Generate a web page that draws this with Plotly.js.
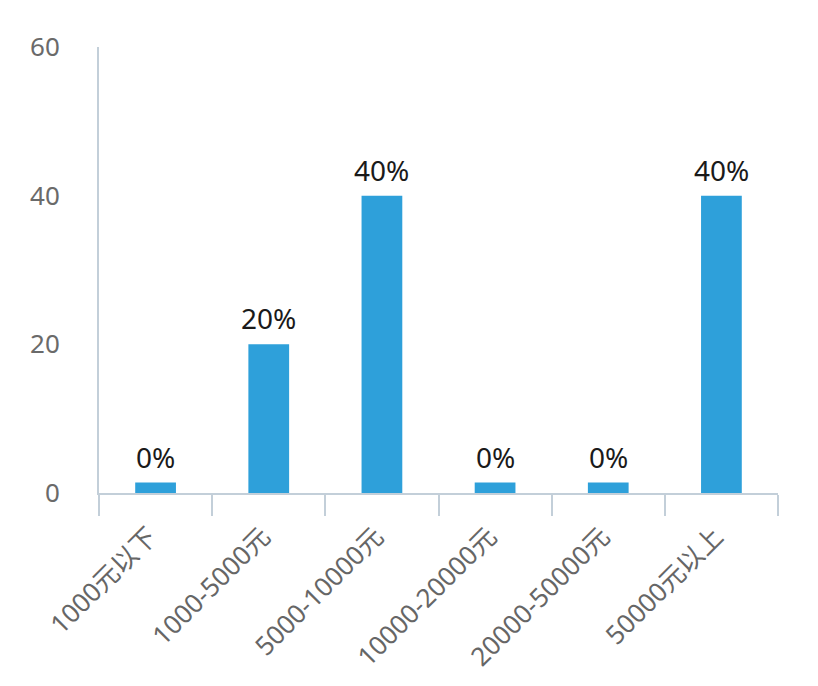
<!DOCTYPE html>
<html>
<head>
<meta charset="utf-8">
<script src="https://cdn.plot.ly/plotly-3.0.1.min.js"></script>
<style>html,body{margin:0;padding:0;background:#fff;}#chart{width:818px;height:686px;}</style>
</head>
<body>
<div id="chart"></div>
<script>
// Data
const categories = ["1000元以下", "1000-5000元", "5000-10000元", "10000-20000元", "20000-50000元", "50000元以上"];
const percentValues = [0, 20, 40, 0, 0, 40];
const yTickValues = [0, 20, 40, 60];

// Style: zero-value bars are drawn with a small visible stub, as in the reference
const MIN_STUB = 1.4;
const displayValues = percentValues.map(v => Math.max(v, MIN_STUB));

const FONT = "Noto Sans, Noto Sans CJK SC, sans-serif";
const AXIS_COLOR = "#c3cfd9";

const trace = {
  type: "bar",
  x: categories,
  y: displayValues,
  marker: { color: "#2ea0da" },
  hoverinfo: "skip"
};

const annotations = categories.map((c, i) => ({
  x: c,
  y: displayValues[i],
  xref: "x",
  yref: "y",
  text: percentValues[i] + "%",
  showarrow: false,
  yanchor: "bottom",
  yshift: 5,
  font: { family: FONT, size: 28, color: "#1a1a1a" }
}));

const layout = {
  width: 818,
  height: 686,
  margin: { l: 99, r: 40, t: 47, b: 193 },
  paper_bgcolor: "#ffffff",
  plot_bgcolor: "#ffffff",
  showlegend: false,
  bargap: 0.64,
  font: { family: FONT },
  xaxis: {
    type: "category",
    showline: true,
    linecolor: AXIS_COLOR,
    linewidth: 2,
    ticks: "outside",
    tickson: "boundaries",
    ticklen: 21,
    tickwidth: 2,
    tickcolor: AXIS_COLOR,
    tickangle: -45,
    ticklabelshift: -6,
    ticklabelstandoff: 16,
    tickfont: { family: FONT, size: 26, color: "#666666" },
    showgrid: false,
    zeroline: false
  },
  yaxis: {
    range: [0, 60],
    tickvals: yTickValues,
    ticktext: yTickValues.map(String),
    showline: true,
    linecolor: AXIS_COLOR,
    linewidth: 2,
    ticks: "",
    ticklabelstandoff: 32,
    tickfont: { family: FONT, size: 26, color: "#6a6a6a" },
    showgrid: false,
    zeroline: false
  },
  annotations: annotations
};

Plotly.newPlot("chart", [trace], layout, { displayModeBar: false, staticPlot: true });
</script>
</body>
</html>
